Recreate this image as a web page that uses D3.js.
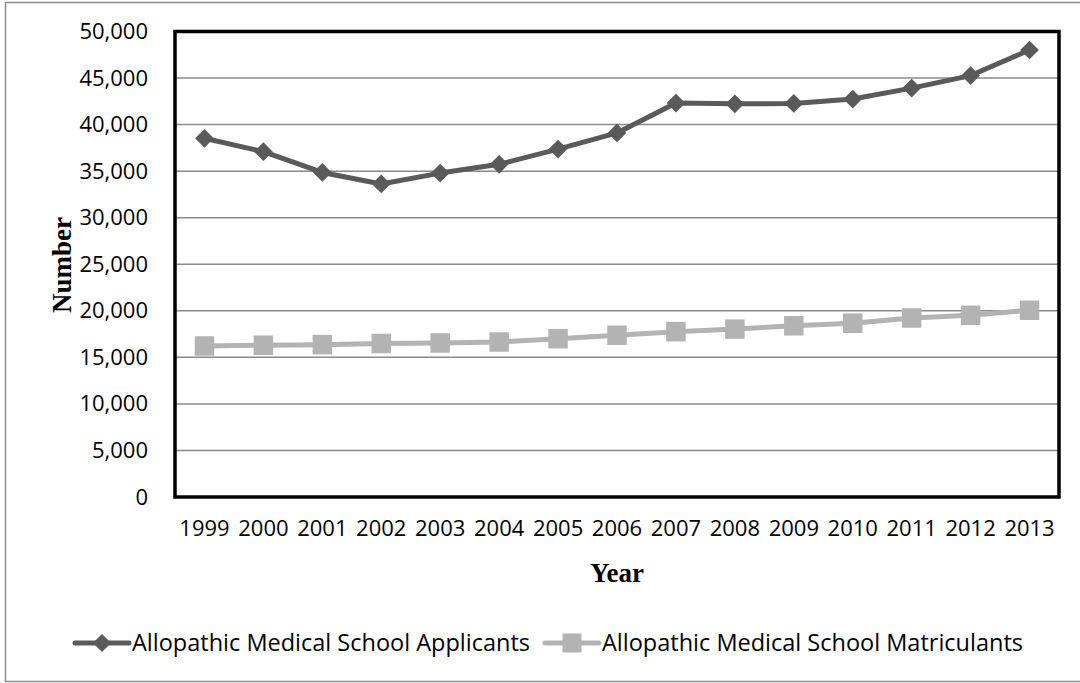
<!DOCTYPE html>
<html>
<head>
<meta charset="utf-8">
<script src="https://cdn.jsdelivr.net/npm/d3@7"></script>
<style>
  html, body { margin: 0; padding: 0; background: #fff; }
  svg { display: block; }
</style>
</head>
<body>
<svg id="chart" width="1080" height="683"></svg>
<script>
// Allopathic medical school applicants and matriculants, 1999–2013
const years = ["1999","2000","2001","2002","2003","2004","2005","2006","2007","2008","2009","2010","2011","2012","2013"];
const applicants = [38529, 37088, 34859, 33625, 34791, 35735, 37372, 39108, 42315, 42231, 42269, 42742, 43919, 45266, 48014];
const matriculants = [16221, 16301, 16365, 16488, 16541, 16648, 17003, 17370, 17759, 18036, 18390, 18665, 19230, 19517, 20055];
const yTicks = [0, 5000, 10000, 15000, 20000, 25000, 30000, 35000, 40000, 45000, 50000];
const seriesNames = ["Allopathic Medical School Applicants", "Allopathic Medical School Matriculants"];

const svg = d3.select("#chart");
const plot = { left: 175, right: 1059, top: 31.5, bottom: 497 };
const tickFont = "'Open Sans', Lato, sans-serif";
const titleFont = "'Liberation Serif', 'DejaVu Serif', serif";

// outer chart frame
svg.append("rect")
  .attr("x", 5.5).attr("y", 2.5)
  .attr("width", 1100).attr("height", 679)
  .attr("fill", "#fff").attr("stroke", "#8c8c8c").attr("stroke-width", 1.5);

const x = d3.scaleBand().domain(years).range([plot.left, plot.right]);
const y = d3.scaleLinear().domain([0, 50000]).range([plot.bottom, plot.top]);

// horizontal gridlines
svg.append("g")
  .selectAll("line")
  .data(yTicks.filter(d => d > 0 && d < 50000))
  .join("line")
  .attr("x1", plot.left).attr("x2", plot.right)
  .attr("y1", d => y(d)).attr("y2", d => y(d))
  .attr("stroke", "#8a8a8a").attr("stroke-width", 1.5);

// y axis labels
const yAxis = d3.axisLeft(y).tickValues(yTicks).tickSize(0).tickPadding(27)
  .tickFormat(d3.format(","));
svg.append("g")
  .attr("transform", `translate(${plot.left},0)`)
  .call(yAxis)
  .call(g => g.select(".domain").remove())
  .call(g => g.selectAll("text")
    .attr("font-family", tickFont).attr("font-size", 22).attr("fill", "#000"));

// x axis labels
const xAxis = d3.axisBottom(x).tickSize(0).tickPadding(23);
svg.append("g")
  .attr("transform", `translate(0,${plot.bottom})`)
  .call(xAxis)
  .call(g => g.select(".domain").remove())
  .call(g => g.selectAll("text")
    .attr("font-family", tickFont).attr("font-size", 22).attr("fill", "#000"));

// plot area border
svg.append("rect")
  .attr("x", plot.left).attr("y", plot.top)
  .attr("width", plot.right - plot.left).attr("height", plot.bottom - plot.top)
  .attr("fill", "none").attr("stroke", "#000").attr("stroke-width", 3.5);

const cx = d => x(d) + x.bandwidth() / 2;
const line = d3.line().x(d => cx(d.year)).y(d => y(d.value));

const series = [
  { name: seriesNames[0], values: applicants, color: "#5a5a5a", width: 5, shape: d3.symbolSquare, size: 175, rotate: 45 },
  { name: seriesNames[1], values: matriculants, color: "#b3b3b3", width: 5, shape: d3.symbolSquare, size: 380, rotate: 0 }
];

series.forEach(s => {
  const pts = years.map((yr, i) => ({ year: yr, value: s.values[i] }));
  svg.append("path")
    .datum(pts)
    .attr("d", line)
    .attr("fill", "none")
    .attr("stroke", s.color)
    .attr("stroke-width", s.width)
    .attr("stroke-linejoin", "round");
  svg.append("g")
    .selectAll("path")
    .data(pts)
    .join("path")
    .attr("transform", d => `translate(${cx(d.year)},${y(d.value)}) rotate(${s.rotate})`)
    .attr("d", d3.symbol().type(s.shape).size(s.size))
    .attr("fill", s.color);
});

// axis titles
svg.append("text")
  .attr("x", 617).attr("y", 582)
  .attr("text-anchor", "middle")
  .attr("font-family", titleFont).attr("font-weight", "bold").attr("font-size", 27)
  .text("Year");

svg.append("text")
  .attr("transform", "translate(71,265) rotate(-90)")
  .attr("text-anchor", "middle")
  .attr("font-family", titleFont).attr("font-weight", "bold").attr("font-size", 27)
  .text("Number");

// legend
const legendY = 643;
const legendX = [75, 545];
series.forEach((s, i) => {
  const g = svg.append("g").attr("transform", `translate(${legendX[i]},${legendY})`);
  g.append("line")
    .attr("x1", 0).attr("x2", 54).attr("y1", 0).attr("y2", 0)
    .attr("stroke", s.color).attr("stroke-width", 5).attr("stroke-linecap", "round");
  g.append("path")
    .attr("transform", `translate(27,0) rotate(${s.rotate})`)
    .attr("d", d3.symbol().type(s.shape).size(s.size * 0.95))
    .attr("fill", s.color);
  g.append("text")
    .attr("x", 57).attr("y", 0).attr("dy", "0.35em")
    .attr("font-family", tickFont).attr("font-size", 23.5).attr("fill", "#000")
    .text(s.name);
});
</script>
</body>
</html>
